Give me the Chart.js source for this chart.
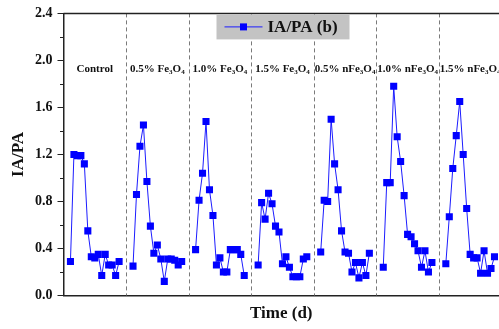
<!DOCTYPE html>
<html>
<head>
<meta charset="utf-8">
<script src="https://cdn.jsdelivr.net/npm/chart.js@4.4.1/dist/chart.umd.min.js"></script>
<style>
  html, body { margin: 0; padding: 0; background: #fff; overflow: hidden; }
  canvas { display: block; }
</style>
</head>
<body>
<canvas id="chart" width="499" height="329"></canvas>
<script>
// each treatment group spans 18 days on the time axis
const groupSpan = 18;
const groups = ['Control', '0.5% Fe_3O_4', '1.0% Fe_3O_4', '1.5% Fe_3O_4', '0.5% nFe_3O_4', '1.0% nFe_3O_4', '1.5% nFe_3O_4'];
const dayOffsets = [2, 3, 4, 5, 6, 7, 8, 9, 10, 11, 12, 13, 14, 15, 16];
// the original figure is cropped just before the end of the last group
const xMax = 125.3;

const control = [0.29, 1.20, 1.19, 1.19, 1.12, 0.55, 0.33, 0.32, 0.35, 0.17, 0.35, 0.26, 0.26, 0.17, 0.29];
const fe05    = [0.25, 0.86, 1.27, 1.45, 0.97, 0.59, 0.36, 0.43, 0.31, 0.12, 0.31, 0.31, 0.30, 0.26, 0.29];
const fe10    = [0.39, 0.81, 1.04, 1.48, 0.90, 0.68, 0.26, 0.32, 0.20, 0.20, 0.39, 0.39, 0.39, 0.35, 0.17];
const fe15    = [0.26, 0.79, 0.65, 0.87, 0.78, 0.59, 0.54, 0.27, 0.33, 0.24, 0.16, 0.16, 0.16, 0.31, 0.33];
const nfe05   = [0.37, 0.81, 0.80, 1.50, 1.12, 0.90, 0.55, 0.37, 0.36, 0.20, 0.28, 0.15, 0.28, 0.17, 0.36];
const nfe10   = [0.24, 0.96, 0.96, 1.78, 1.35, 1.14, 0.85, 0.52, 0.50, 0.44, 0.38, 0.24, 0.38, 0.20, 0.28];
const nfe15   = [0.27, 0.67, 1.08, 1.36, 1.65, 1.20, 0.74, 0.35, 0.32, 0.32, 0.19, 0.38, 0.19, 0.23, 0.33];

const yTicks = [0, 0.4, 0.8, 1.2, 1.6, 2.0, 2.4];
const yMinor = [0.2, 0.6, 1.0, 1.4, 1.8, 2.2];

const serif = "'Liberation Serif', 'Times New Roman', serif";
const axisColor = '#222';

// one series, broken (null) at every group boundary
const series = [control, fe05, fe10, fe15, nfe05, nfe10, nfe15];
const points = [];
series.forEach((vals, g) => {
  vals.forEach((v, i) => points.push({ x: g * groupSpan + dayOffsets[i], y: v }));
  if (g < series.length - 1) points.push({ x: (g + 1) * groupSpan, y: null });
});

// text with "_x" marking a subscript character
function drawRich(ctx, str, cx, y, size) {
  const parts = [];
  for (let i = 0; i < str.length; i++) {
    if (str[i] === '_') { parts.push({ t: str[i + 1], sub: true }); i++; }
    else parts.push({ t: str[i], sub: false });
  }
  const big = 'bold ' + size + 'px ' + serif;
  const small = 'bold ' + Math.round(size * 0.62) + 'px ' + serif;
  let total = 0;
  parts.forEach(p => { ctx.font = p.sub ? small : big; p.w = ctx.measureText(p.t).width; total += p.w; });
  let x = cx - total / 2;
  ctx.textAlign = 'left';
  ctx.textBaseline = 'alphabetic';
  parts.forEach(p => {
    ctx.font = p.sub ? small : big;
    ctx.fillText(p.t, x, p.sub ? y + 2.5 : y);
    x += p.w;
  });
}

const decorations = {
  id: 'decorations',
  beforeDatasetsDraw(chart) {
    const { ctx, chartArea: a, scales: { x, y } } = chart;
    ctx.save();
    // dashed group separators
    ctx.strokeStyle = '#7a7a7a';
    ctx.lineWidth = 1;
    ctx.setLineDash([4, 3]);
    for (let g = 1; g < groups.length; g++) {
      const px = Math.round(x.getPixelForValue(g * groupSpan)) + 0.5;
      ctx.beginPath();
      ctx.moveTo(px, a.top);
      ctx.lineTo(px, a.bottom);
      ctx.stroke();
    }
    ctx.setLineDash([]);
    // top frame
    ctx.strokeStyle = axisColor;
    ctx.lineWidth = 1.5;
    ctx.beginPath();
    ctx.moveTo(a.left, a.top);
    ctx.lineTo(a.right, a.top);
    ctx.stroke();
    // minor ticks on y axis
    ctx.lineWidth = 1;
    yMinor.forEach(v => {
      const py = Math.round(y.getPixelForValue(v)) + 0.5;
      ctx.beginPath();
      ctx.moveTo(a.left - 3.5, py);
      ctx.lineTo(a.left, py);
      ctx.stroke();
    });
    // group labels
    ctx.fillStyle = '#111';
    groups.forEach((lab, g) => {
      drawRich(ctx, lab, x.getPixelForValue(g * groupSpan + groupSpan / 2), a.top + 58.5, 11);
    });
    ctx.restore();
  },
  afterDraw(chart) {
    const { ctx, chartArea: a } = chart;
    const ds = chart.data.datasets[0];
    ctx.save();
    const bx = a.left + 153, by = a.top + 1;
    ctx.fillStyle = '#c3c3c3';
    ctx.fillRect(bx, by, 133, 25);
    const ly = by + 12.5;
    ctx.strokeStyle = ds.borderColor;
    ctx.lineWidth = 1;
    ctx.beginPath();
    ctx.moveTo(bx + 8, ly);
    ctx.lineTo(bx + 46, ly);
    ctx.stroke();
    ctx.fillStyle = ds.pointBackgroundColor;
    ctx.fillRect(bx + 23.5, ly - 3.5, 7, 7);
    ctx.fillStyle = '#111';
    ctx.font = 'bold 17px ' + serif;
    ctx.textAlign = 'left';
    ctx.textBaseline = 'middle';
    ctx.fillText(ds.label, bx + 51, ly + 1);
    ctx.restore();
  }
};

new Chart(document.getElementById('chart'), {
  type: 'line',
  data: {
    datasets: [{
      label: 'IA/PA (b)',
      data: points,
      borderColor: '#1c1cff',
      borderWidth: 1,
      pointStyle: 'rect',
      pointRadius: 5,
      pointHoverRadius: 5,
      pointBackgroundColor: '#0000ff',
      pointBorderColor: '#0000ff',
      pointBorderWidth: 0,
      spanGaps: false,
      tension: 0
    }]
  },
  options: {
    responsive: false,
    animation: false,
    events: [],
    layout: { autoPadding: false, padding: { top: 13, right: 0, left: 0, bottom: 0 } },
    plugins: { legend: { display: false }, tooltip: { enabled: false } },
    scales: {
      x: {
        type: 'linear',
        min: 0,
        max: xMax,
        grid: { display: false },
        border: { display: true, color: axisColor, width: 1.5 },
        ticks: { display: false },
        title: {
          display: true,
          text: 'Time (d)',
          color: '#111',
          font: { family: serif, size: 17, weight: 'bold' },
          padding: { top: 0, bottom: 5 }
        },
        afterFit: s => { s.height = 33.5; }
      },
      y: {
        min: 0,
        max: 2.4,
        afterBuildTicks: s => { s.ticks = yTicks.map(v => ({ value: v })); },
        grid: { display: true, drawOnChartArea: false, drawTicks: true, tickLength: 6, tickColor: axisColor, tickWidth: 1 },
        border: { display: true, color: axisColor, width: 1.5 },
        ticks: {
          color: '#111',
          padding: 5,
          font: { family: serif, size: 14, weight: 'bold' },
          callback: v => v.toFixed(1)
        },
        title: {
          display: true,
          text: 'IA/PA',
          color: '#111',
          font: { family: serif, size: 17, weight: 'bold' },
          padding: { top: 8, bottom: 0 }
        },
        afterFit: s => { s.width = 63.5; }
      }
    }
  },
  plugins: [decorations]
});
</script>
</body>
</html>
